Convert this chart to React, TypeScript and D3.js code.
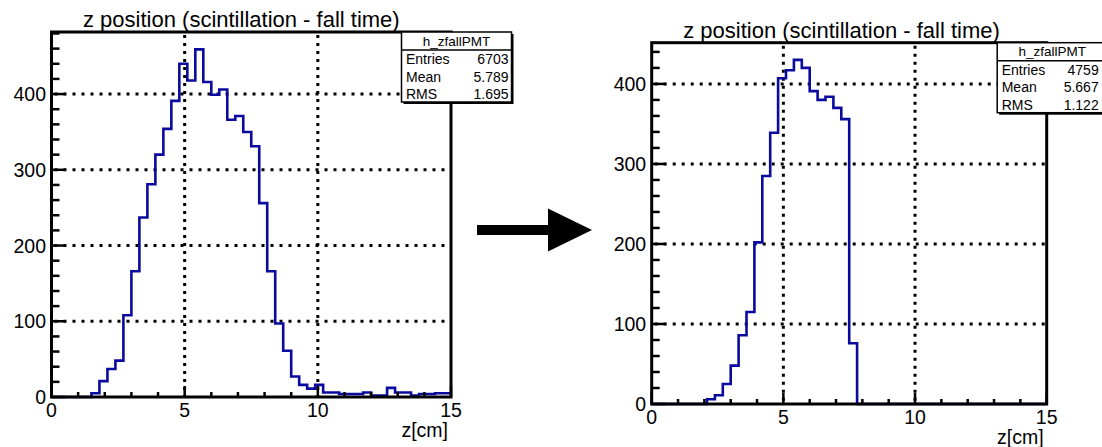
import React from 'react';
import * as d3 from 'd3';

// histogram binning (cm)
const zRange = [0, 15];

// h_zfallPMT before the cut: 50 bins of 0.3 cm
const countsBefore = [
  0, 0, 0, 0, 0, 5, 21, 37, 48, 108,
  166, 237, 281, 320, 354, 391, 440, 418, 459, 416,
  399, 406, 366, 371, 350, 331, 256, 166, 97, 61,
  27, 16, 11, 16, 6, 6, 4, 4, 4, 6,
  2, 2, 12, 6, 6, 2, 4, 4, 5, 5,
];

// h_zfallPMT after the cut
const countsAfter = [
  0, 0, 0, 0, 0, 0, 0, 6, 11, 25,
  48, 86, 115, 202, 285, 339, 407, 417, 430, 420,
  391, 380, 384, 370, 356, 76, 0, 0, 0, 0,
  0, 0, 0, 0, 0, 0, 0, 0, 0, 0,
  0, 0, 0, 0, 0, 0, 0, 0, 0, 0,
];

const histName = 'h_zfallPMT';
const statEntries = [6703, 4759];
const statMean = [5.789, 5.667];
const statRms = [1.695, 1.122];

const plotTitle = 'z position (scintillation - fall time)';
const xTitle = 'z[cm]';
const xMajorTicks = [0, 5, 10, 15];

const FONT = '"Liberation Sans", Arial, Helvetica, sans-serif';
const LINE = '#0a0a9e';

type Panel = { left: number; top: number; right: number; bottom: number; valX: number };

const Histo = ({ counts, box, entries, mean, rms }:
  { counts: number[]; box: Panel; entries: number; mean: number; rms: number }) => {
  const x = d3.scaleLinear().domain(zRange).range([box.left, box.right]);
  const yMax = (d3.max(counts) as number) * 1.05;
  const y = d3.scaleLinear().domain([0, yMax]).range([box.bottom, box.top]);
  const bw = (zRange[1] - zRange[0]) / counts.length;

  const pts: [number, number][] = counts.map((c, i) => [zRange[0] + i * bw, c]);
  pts.push([zRange[1], counts[counts.length - 1]]);
  const line = d3.line<[number, number]>()
    .x(d => x(d[0]))
    .y(d => y(d[1]))
    .curve(d3.curveStepAfter);

  const yMajor = d3.range(0, yMax, 100);
  const yMinor = d3.range(0, yMax, 20).filter(v => v % 100 !== 0);
  const xMinor = d3.range(zRange[0], zRange[1] + 0.01, 1).filter(v => v % 5 !== 0);

  const sx = box.right - 49.5;
  const sy = box.top;
  const sw = 110;
  const sh = 70;

  return (
    <g fontFamily={FONT}>
      <text x={box.left + 31.5} y={box.top - 5} fontSize={22} fill="#000">{plotTitle}</text>

      {/* grid */}
      {yMajor.filter(v => v > 0).map(v => (
        <line key={'gy' + v} x1={box.left + 3} x2={box.right} y1={y(v)} y2={y(v)}
          stroke="#000" strokeWidth={3} strokeDasharray="3 6" />
      ))}
      {xMajorTicks.filter(v => v > zRange[0] && v < zRange[1]).map(v => (
        <line key={'gx' + v} x1={x(v)} x2={x(v)} y1={box.top + 3} y2={box.bottom}
          stroke="#000" strokeWidth={3} strokeDasharray="3 5" />
      ))}

      <path d={line(pts) as string} fill="none" stroke={LINE} strokeWidth={2.6} />

      {/* frame */}
      <rect x={box.left} y={box.top} width={box.right - box.left} height={box.bottom - box.top}
        fill="none" stroke="#000" strokeWidth={3} />

      {/* y ticks */}
      {yMajor.map(v => (
        <line key={'ty' + v} x1={box.left} x2={box.left + 14} y1={y(v)} y2={y(v)} stroke="#000" strokeWidth={2.5} />
      ))}
      {yMinor.map(v => (
        <line key={'tm' + v} x1={box.left} x2={box.left + 8} y1={y(v)} y2={y(v)} stroke="#000" strokeWidth={2.5} />
      ))}
      {yMajor.map(v => (
        <text key={'ly' + v} x={box.left - 5.5} y={y(v) + 7} fontSize={19.5} textAnchor="end">{v}</text>
      ))}

      {/* x ticks */}
      {xMajorTicks.map(v => (
        <line key={'tx' + v} x1={x(v)} x2={x(v)} y1={box.bottom} y2={box.bottom - 11} stroke="#000" strokeWidth={2.5} />
      ))}
      {xMinor.map(v => (
        <line key={'txm' + v} x1={x(v)} x2={x(v)} y1={box.bottom} y2={box.bottom - 5} stroke="#000" strokeWidth={2.5} />
      ))}
      {xMajorTicks.map(v => (
        <text key={'lx' + v} x={x(v)} y={box.bottom + 20} fontSize={19.5} textAnchor="middle">{v}</text>
      ))}
      <text x={box.right - 3} y={box.bottom + 40} fontSize={19.5} textAnchor="end">{xTitle}</text>

      {/* stats box */}
      <rect x={sx + 2} y={sy + 2} width={sw} height={sh} fill="#000" />
      <rect x={sx} y={sy} width={sw} height={sh} fill="#fff" stroke="#000" strokeWidth={1.5} />
      <line x1={sx} x2={sx + sw} y1={sy + 18} y2={sy + 18} stroke="#000" strokeWidth={1.5} />
      <text x={sx + 55} y={sy + 13.5} fontSize={13.5} textAnchor="middle">{histName}</text>
      {[['Entries', String(entries)], ['Mean', mean.toFixed(3)], ['RMS', rms.toFixed(3)]].map((r, i) => (
        <g key={r[0]} fontSize={14}>
          <text x={sx + 4.5} y={sy + 32 + i * 17.5}>{r[0]}</text>
          <text x={sx + box.valX} y={sy + 32 + i * 17.5} textAnchor="end">{r[1]}</text>
        </g>
      ))}
    </g>
  );
};

const App = () => {
  const panels: Panel[] = [
    { left: 51.5, top: 32, right: 451, bottom: 397, valX: 107 },
    { left: 651.7, top: 42.7, right: 1046.7, bottom: 404, valX: 101.5 },
  ];
  return (
    <svg width={1102} height={447} style={{ position: 'absolute', left: 0, top: 0, background: '#fff' }}>
      <rect width={1102} height={447} fill="#fff" />
      <Histo counts={countsBefore} box={panels[0]} entries={statEntries[0]} mean={statMean[0]} rms={statRms[0]} />
      <Histo counts={countsAfter} box={panels[1]} entries={statEntries[1]} mean={statMean[1]} rms={statRms[1]} />
      {/* arrow between the two panels */}
      <path d="M477,225 L548,225 L548,208.5 L592,230 L548,251.5 L548,235 L477,235 Z" fill="#000" />
    </svg>
  );
};

export default App;
